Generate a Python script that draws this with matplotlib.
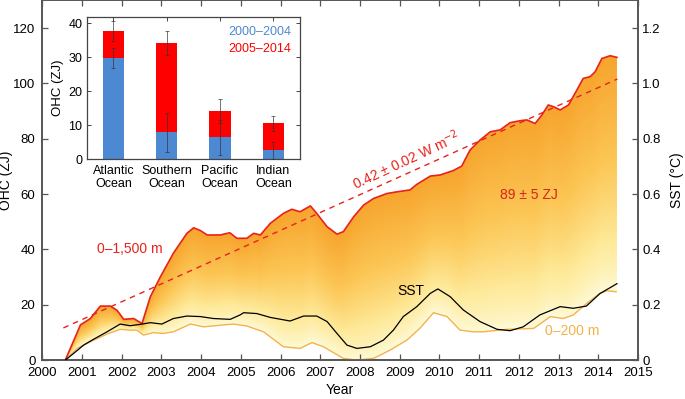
import numpy as np
import matplotlib
matplotlib.use("Agg")
import matplotlib.pyplot as plt
from matplotlib.colors import LinearSegmentedColormap

plt.rcParams['font.family'] = ['Liberation Sans', 'DejaVu Sans']

# ---- Data: OHC 0-1,500 m (ZJ) ----
ohc1500_year = [2000.58, 2000.96, 2001.21, 2001.46, 2001.71, 2001.88, 2002.05, 2002.3, 2002.51,
                2002.72, 2002.97, 2003.3, 2003.64, 2003.81, 2003.98, 2004.15, 2004.48, 2004.72,
                2004.9, 2005.15, 2005.32, 2005.49, 2005.74, 2006.07, 2006.28, 2006.49, 2006.75,
                2006.91, 2007.17, 2007.42, 2007.58, 2007.84, 2008.09, 2008.34, 2008.68, 2008.93,
                2009.26, 2009.43, 2009.77, 2010.02, 2010.35, 2010.56, 2010.77, 2011.02, 2011.28,
                2011.53, 2011.78, 2012.03, 2012.2, 2012.41, 2012.58, 2012.74, 2012.87, 2013.04,
                2013.25, 2013.46, 2013.62, 2013.79, 2013.92, 2014.09, 2014.3, 2014.47]
ohc1500 = [0, 12.7, 15, 19.5, 19.5, 18, 14.7, 15, 13.2,
           22.9, 30, 38.6, 45.8, 47.8, 46.8, 45.2, 45.2, 46.0,
           44, 44, 45.8, 45.2, 49.4, 53, 54.5, 53.6, 55.7,
           53, 48.2, 45.5, 46.4, 51.8, 56, 58.4, 60.2, 60.8,
           61.5, 63.5, 66.5, 66.9, 68.5, 70.1, 75.9, 79.5, 82.5,
           83.2, 85.8, 86.5, 86.8, 85.5, 88.6, 92.2, 91.6, 90.4,
           92.2, 97.6, 101.8, 102.4, 104.2, 109, 110, 109.4]

# ---- Data: OHC 0-200 m (ZJ) ----
ohc200_year = [2000.58, 2000.87, 2001.21, 2001.63, 2001.96, 2002.21, 2002.38, 2002.55, 2002.8,
               2003.05, 2003.3, 2003.73, 2004.06, 2004.5, 2004.81, 2005.15, 2005.57, 2006.07,
               2006.49, 2006.79, 2007.08, 2007.58, 2007.92, 2008.34, 2008.76, 2009.18, 2009.51,
               2009.85, 2010.19, 2010.52, 2010.86, 2011.1, 2011.7, 2012.37, 2012.79, 2013.12,
               2013.37, 2013.71, 2014.04, 2014.21, 2014.45]
ohc200 = [0, 4.2, 6.6, 9.4, 11.1, 10.8, 10.8, 9.0, 9.9,
          9.6, 10.2, 13.0, 12.0, 12.6, 13.0, 12.3, 10.2, 4.8,
          4.2, 6.3, 4.8, 0.6, 0.0, 0.6, 3.6, 7.2, 11.5,
          17.1, 15.7, 10.8, 10.2, 10.2, 11.1, 11.4, 15.7, 15.0,
          16.3, 20.5, 24.1, 25.0, 24.7]

# ---- Data: SST (degC) ----
sst_year = [2000.58, 2000.79, 2001.04, 2001.29, 2001.63, 2001.96, 2002.21, 2002.47, 2002.72,
            2003.01, 2003.3, 2003.64, 2003.98, 2004.31, 2004.73, 2004.98, 2005.07, 2005.4,
            2005.74, 2006.24, 2006.58, 2006.91, 2007.17, 2007.42, 2007.67, 2007.92, 2008.26,
            2008.59, 2008.84, 2009.09, 2009.43, 2009.77, 2009.96, 2010.27, 2010.6, 2011.02,
            2011.45, 2011.78, 2012.11, 2012.53, 2013.04, 2013.37, 2013.7, 2014.04, 2014.47]
sst = [0.0, 0.024, 0.054, 0.075, 0.102, 0.13, 0.124, 0.129, 0.135,
       0.13, 0.15, 0.159, 0.157, 0.15, 0.147, 0.163, 0.171, 0.168,
       0.154, 0.141, 0.159, 0.159, 0.139, 0.096, 0.054, 0.042, 0.048,
       0.072, 0.108, 0.157, 0.193, 0.241, 0.257, 0.229, 0.181, 0.139,
       0.111, 0.106, 0.12, 0.163, 0.193, 0.187, 0.195, 0.24, 0.276]

# Trend line (ZJ)
trend_start_year, trend_end_year = 2000.53, 2014.48
trend_start_value = 11.6
trend_slope = 6.45  # ZJ per year

# ---- Inset data (ZJ) ----
basins = ['Atlantic\nOcean', 'Southern\nOcean', 'Pacific\nOcean', 'Indian\nOcean']
early = [29.8, 7.9, 6.4, 2.6]        # 2000-2004
total = [37.7, 34.3, 14.2, 10.5]     # top of 2005-2014 stack
early_err = [3.0, 5.7, 5.2, 2.5]
total_err = [3.0, 3.5, 3.6, 2.2]

xticks_main = list(range(2000, 2016))
yticks_main = [0, 20, 40, 60, 80, 100, 120]
yticks_sst = [0, 0.2, 0.4, 0.6, 0.8, 1.0, 1.2]
sst_ticklabels = ['0', '0.2', '0.4', '0.6', '0.8', '1.0', '1.2']

RED = '#e8221c'
ORANGE200 = '#f4b24a'
SPINE = '#555555'

fig = plt.figure(figsize=(6.85, 3.99), dpi=100)
ax = fig.add_axes([0.0618, 0.0977, 0.8696, 0.9013])
ax.set_xlim(2000, 2015)
ax.set_ylim(0, 130)

# gradient fill between 0-1500 and 0-200 curves
xg = np.linspace(ohc1500_year[0], ohc1500_year[-1], 700)
top = np.interp(xg, ohc1500_year, ohc1500)
bot = np.interp(xg, ohc200_year, ohc200)
yg = np.linspace(0, 130, 600)
X, Y = np.meshgrid(xg, yg)
T = np.clip((Y - bot[None, :]) / np.maximum(top - bot, 1e-6)[None, :], 0, 1) ** 0.7
cmap = LinearSegmentedColormap.from_list('g', ['#fffbdc', '#feea9a', '#fcc655', '#f7a52e'])
poly = ax.fill_between(xg, bot, top, color='none', lw=0)
im = ax.imshow(T, extent=[xg[0], xg[-1], 0, 130], origin='lower', aspect='auto',
               cmap=cmap, vmin=0, vmax=1, interpolation='bilinear', zorder=1)
im.set_clip_path(poly.get_paths()[0], transform=ax.transData)

ax.plot(ohc200_year, ohc200, color=ORANGE200, lw=1.0, zorder=3)
ax.plot(ohc1500_year, ohc1500, color=RED, lw=1.2, zorder=4)
tx = np.array([trend_start_year, trend_end_year])
ax.plot(tx, trend_start_value + trend_slope * (tx - trend_start_year), color=RED, lw=1.0,
        ls=(0, (4, 3.5)), zorder=5)

for s in ax.spines.values():
    s.set_color(SPINE)
    s.set_linewidth(1.2)
ax.set_xticks(xticks_main)
ax.set_yticks(yticks_main)
ax.tick_params(direction='in', top=True, length=4, labelsize=9.5, width=0.9, color=SPINE,
               pad=5)
ax.tick_params(axis='y', right=False)
ax.set_xlabel('Year', fontsize=10, labelpad=3)
ax.set_ylabel('OHC (ZJ)', fontsize=10)
ax.yaxis.set_label_coords(-0.049, 0.5)

ax2 = ax.twinx()
ax2.set_ylim(0, 1.3)
for s in ax2.spines.values():
    s.set_color(SPINE)
    s.set_linewidth(1.2)
ax2.plot(sst_year, sst, color='black', lw=0.9, zorder=6)
ax2.set_yticks(yticks_sst)
ax2.set_yticklabels(sst_ticklabels)
ax2.tick_params(direction='in', length=4, labelsize=9.5, width=0.9, color=SPINE, pad=3)
ax2.set_ylabel('SST (°C)', fontsize=10, labelpad=7)

# annotations
ax.text(2002.2, 40, '0–1,500 m', color=RED, fontsize=10, ha='center', va='center')
ax.text(2009.15, 72.3, '0.42 ± 0.02 W m$^{-2}$', color=RED, fontsize=10, ha='center',
        va='center', rotation=25)
ax.text(2012.25, 59.7, '89 ± 5 ZJ', color='#d8231b', fontsize=10, ha='center', va='center')
ax.text(2009.27, 25, 'SST', color='black', fontsize=10, ha='center', va='center')
ax.text(2013.35, 10.5, '0–200 m', color=ORANGE200, fontsize=10, ha='center', va='center')

# inset
ins = fig.add_axes([0.1266, 0.6015, 0.3114, 0.3551])
xpos = np.arange(1, len(basins) + 1)
ins.bar(xpos, early, width=0.4, color='#4d88d2', zorder=2)
ins.bar(xpos, np.array(total) - np.array(early), bottom=early, width=0.4, color='#fe0000', zorder=2)
ins.errorbar(xpos, early, yerr=early_err, fmt='none', ecolor='#333333', elinewidth=0.6,
             capsize=1.2, capthick=0.6, alpha=0.8, zorder=3)
ins.errorbar(xpos, total, yerr=total_err, fmt='none', ecolor='#333333', elinewidth=0.6,
             capsize=1.2, capthick=0.6, alpha=0.8, zorder=3)
ins.set_xlim(0.5, 4.5)
ins.set_ylim(0, 41.8)
for s in ins.spines.values():
    s.set_color('#444444')
    s.set_linewidth(0.9)
ins.set_xticks(xpos)
ins.set_xticklabels(basins, fontsize=9, linespacing=1.15)
ins.set_yticks([0, 10, 20, 30, 40])
ins.tick_params(direction='in', top=True, right=True, length=3, labelsize=9, width=0.7,
                color='#444444', pad=3)
ins.tick_params(axis='x', pad=4)
ins.set_ylabel('OHC (ZJ)', fontsize=9.5, labelpad=3)
ins.text(0.96, 0.894, '2000–2004', color='#4d88d2', fontsize=9, ha='right', va='center',
         transform=ins.transAxes)
ins.text(0.96, 0.775, '2005–2014', color='#fe0000', fontsize=9, ha='right', va='center',
         transform=ins.transAxes)

fig.savefig('out.png', dpi=100)
